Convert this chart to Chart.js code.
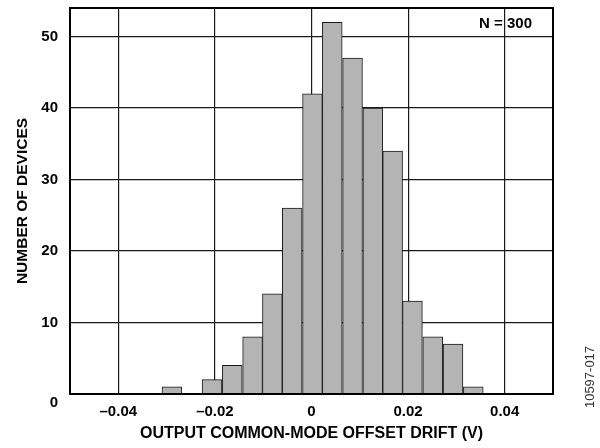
<!DOCTYPE html>
<html>
<head>
<meta charset="utf-8">
<script src="https://cdn.jsdelivr.net/npm/chart.js@4/dist/chart.umd.min.js"></script>
<style>
  body { margin: 0; background: #fff; }
  canvas { display: block; }
</style>
</head>
<body>
<canvas id="myChart" width="600" height="448"></canvas>
<script>
// bin centres (V) and device counts
const binCenters = [-0.0289, -0.0247, -0.0206, -0.0164, -0.0122, -0.0081, -0.0040, 0.0002,
                    0.0043, 0.0085, 0.0127, 0.0168, 0.0209, 0.0251, 0.0293, 0.0335];
const deviceCounts = [1, 0, 2, 4, 8, 14, 26, 42, 52, 47, 40, 34, 13, 8, 7, 1];

const xTickValues = [-0.04, -0.02, 0, 0.02, 0.04];
const xTickLabels = ['\u20130.04', '\u20130.02', '0', '0.02', '0.04'];
const yTickValues = [0, 10, 20, 30, 40, 50];

const FONT = '"Liberation Sans", Arial, Helvetica, sans-serif';

const extraText = {
  id: 'extraText',
  afterDraw(chart) {
    const ctx = chart.ctx;
    const a = chart.chartArea;
    ctx.save();
    // plot box
    ctx.strokeStyle = '#000';
    ctx.lineWidth = 2;
    ctx.strokeRect(a.left, a.top, a.right - a.left, a.bottom - a.top);

    ctx.fillStyle = '#000';
    ctx.font = 'bold 15px ' + FONT;
    ctx.textAlign = 'right';
    ctx.textBaseline = 'middle';
    ctx.fillText('N = 300', 532, 24);

    ctx.font = '13px ' + FONT;
    ctx.fillStyle = '#333';
    ctx.translate(590, 377);
    ctx.rotate(-Math.PI / 2);
    ctx.textAlign = 'center';
    ctx.fillText('10597-017', 0, 0);
    ctx.restore();
  }
};

const ctx = document.getElementById('myChart').getContext('2d');
const myChart = new Chart(ctx, {
  type: 'bar',
  data: {
    datasets: [
      {
        data: binCenters.map((c, i) => ({ x: c, y: deviceCounts[i] })),
        backgroundColor: '#b4b4b4',
        borderColor: '#1a1a1a',
        borderWidth: 1,
        barPercentage: 1,
        categoryPercentage: 1,
      },
    ],
  },
  options: {
    responsive: false,
    animation: false,
    layout: { padding: { top: 8, right: 47, left: 0, bottom: 0 } },
    plugins: { legend: { display: false }, tooltip: { enabled: false } },
    scales: {
      x: {
        type: 'linear',
        min: -0.05,
        max: 0.05,
        offset: false,
        afterBuildTicks: (scale) => {
          scale.ticks = xTickValues.map((v) => ({ value: v }));
        },
        afterFit: (scale) => {
          scale.height = 54;
          scale.paddingLeft = 0;
          scale.paddingRight = 0;
        },
        grid: { offset: false, color: '#1a1a1a', lineWidth: 1.2, drawTicks: false },
        border: { color: '#000', width: 2 },
        ticks: {
          color: '#000',
          padding: 9,
          maxRotation: 0,
          font: { family: FONT, size: 15, weight: 'bold' },
          callback: (v) => xTickLabels[xTickValues.indexOf(v)],
        },
        title: {
          display: true,
          text: 'OUTPUT COMMON-MODE OFFSET DRIFT (V)',
          color: '#000',
          font: { family: FONT, size: 16, weight: 'bold' },
          padding: { top: 0, bottom: 5 },
        },
      },
      y: {
        min: 0,
        max: 54,
        afterBuildTicks: (scale) => {
          scale.ticks = yTickValues.map((v) => ({ value: v }));
        },
        afterFit: (scale) => {
          scale.width = 70;
          scale.paddingTop = 0;
          scale.paddingBottom = 0;
        },
        grid: { color: '#1a1a1a', lineWidth: 1.2, drawTicks: false },
        border: { color: '#000', width: 2 },
        ticks: {
          color: '#000',
          padding: 12,
          font: { family: FONT, size: 15, weight: 'bold' },
          // the zero label sits a little below its grid line
          callback: (v) => (v === 0 ? ['', '0'] : String(v)),
        },
        title: {
          display: true,
          text: 'NUMBER OF DEVICES',
          color: '#000',
          font: { family: FONT, size: 15.5, weight: 'bold' },
          padding: { top: 13.5, bottom: 0 },
        },
      },
    },
  },
  plugins: [extraText],
});
</script>
</body>
</html>
